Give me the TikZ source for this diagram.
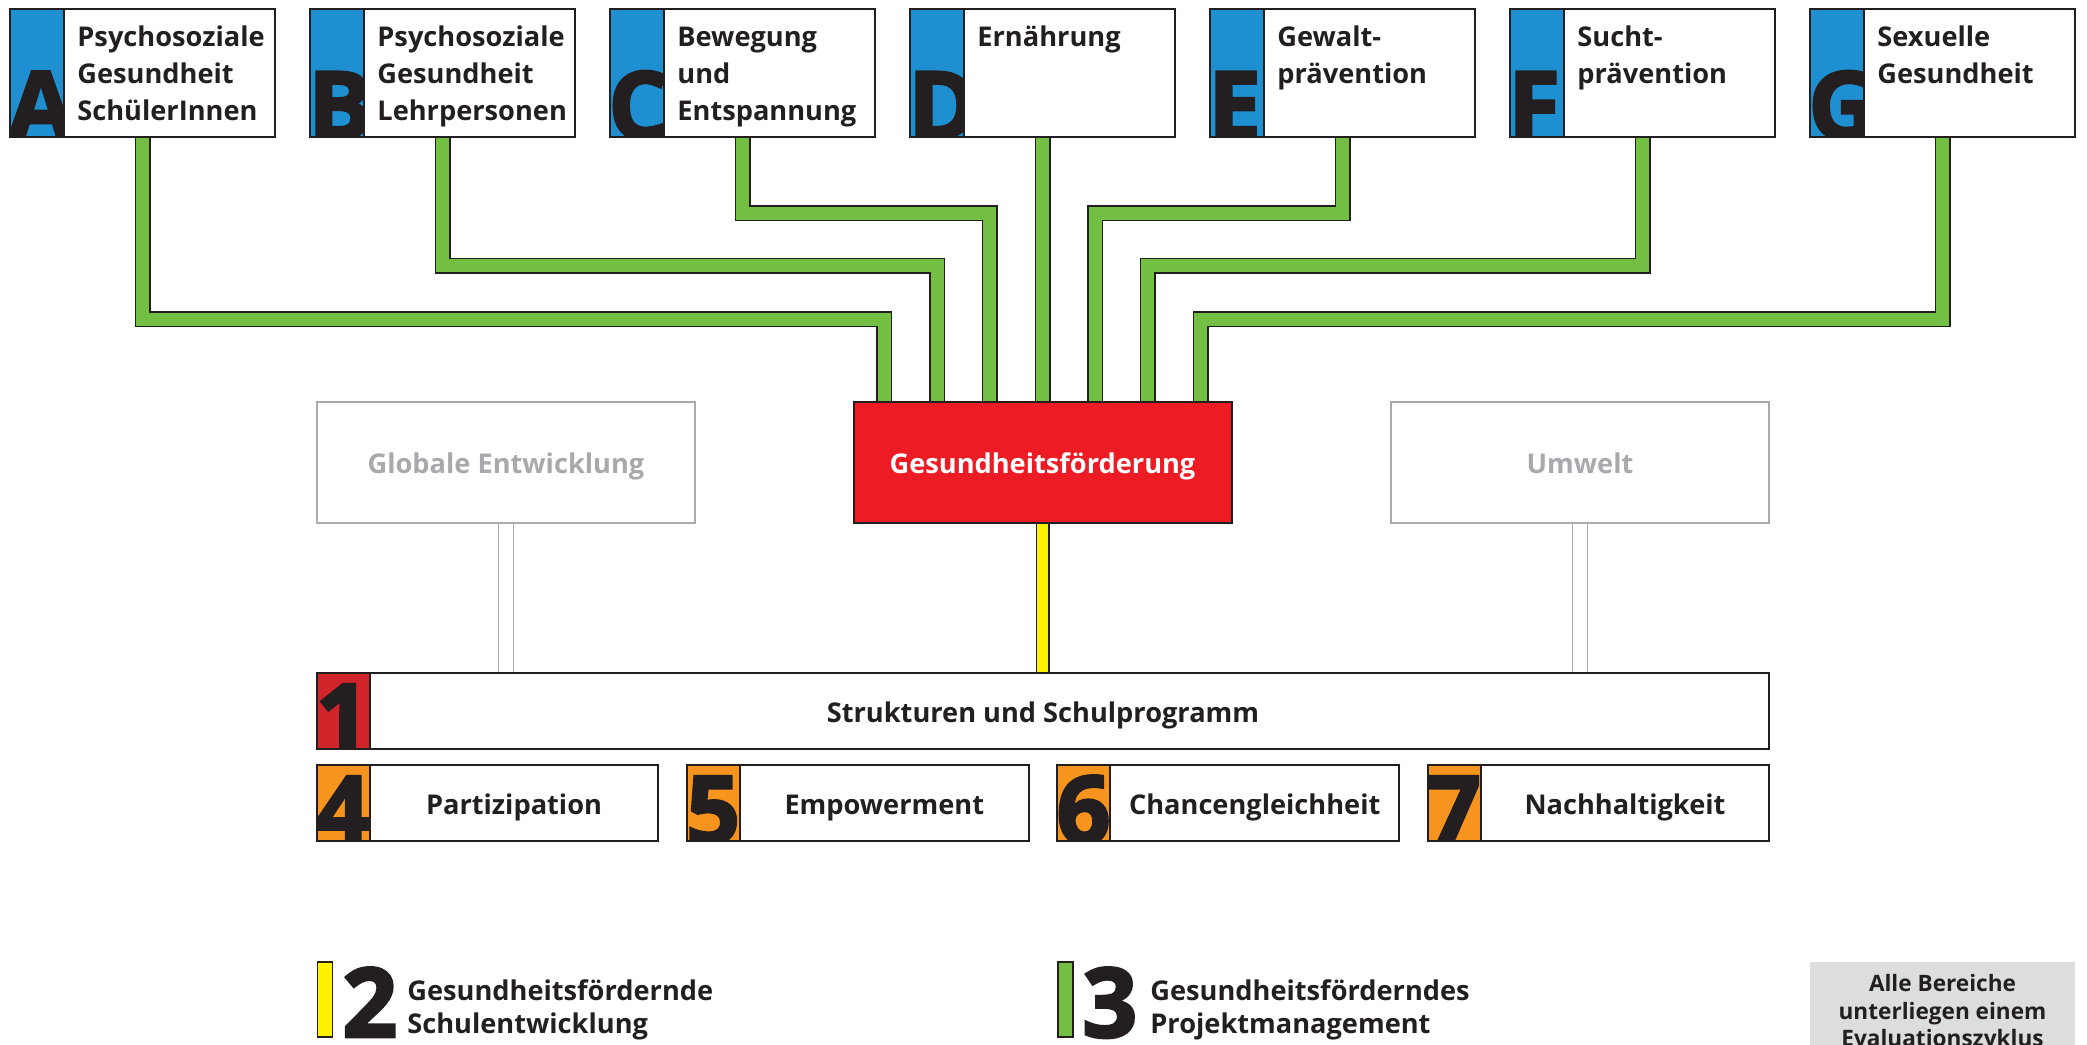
\documentclass[tikz,border=0pt]{standalone}
\usepackage{fontspec}
\setmainfont{Open Sans}
\newfontfamily\heavyfont{Open Sans}[BoldFeatures={FakeBold=3}]
\usetikzlibrary{calc,backgrounds}
\definecolor{ink}{RGB}{35,31,32}
\definecolor{myblue}{RGB}{30,144,210}
\definecolor{myred}{RGB}{237,28,36}
\definecolor{darkred}{RGB}{208,35,42}
\definecolor{myorange}{RGB}{247,148,29}
\definecolor{mygreen}{RGB}{114,191,68}
\definecolor{myyellow}{RGB}{255,242,0}
\definecolor{greyln}{RGB}{170,170,172}
\definecolor{greytxt}{RGB}{167,169,172}
\definecolor{greyfill}{RGB}{220,221,223}
\newcommand\lbl[1]{\parbox[t]{200pt}{\raggedright #1}}
\tikzset{
  topbox/.style={fill=white, minimum width=132.5pt, minimum height=64pt, inner sep=0pt, outer sep=0pt},
  bigchar/.style={font=\fontsize{47pt}{47pt}\selectfont\heavyfont\bfseries, text=ink, inner sep=0pt},
  bigdigit/.style={font=\fontsize{47pt}{47pt}\selectfont\heavyfont\bfseries, text=ink, inner sep=0pt},
  lbltext/.style={font=\fontsize{13.6pt}{18.35pt}\selectfont\bfseries, text=ink, inner sep=0pt},
  legtext/.style={font=\fontsize{13.6pt}{16.8pt}\selectfont\bfseries, text=ink, inner sep=0pt},
  evaltext/.style={font=\fontsize{11.3pt}{13.75pt}\selectfont\bfseries, text=ink, inner sep=0pt},
  border/.style={draw=ink, line width=1pt},
  greenconn/.style={draw=ink, double=mygreen, line width=0.75pt, double distance=6.5pt},
  yellowconn/.style={draw=ink, double=myyellow, line width=0.75pt, double distance=5.5pt},
  greyline/.style={draw=greyln, line width=0.8pt},
  midbox/.style={minimum width=189pt, minimum height=60.5pt, inner sep=0pt, font=\fontsize{13.6pt}{16pt}\selectfont\bfseries},
  legbar/.style={draw=ink, line width=0.6pt, minimum width=7.5pt, minimum height=37.5pt, inner sep=0pt},
}
\newcommand\topbox[4]{%
  \node[topbox] (#1) at (#2+132.5,73) {};
  \fill[myblue] (#1.north west) rectangle ($(#1.south west)+(54,0)$);
  \begin{scope}
    \clip (#1.north west) rectangle ($(#1.south west)+(54,0)$);
    \node[bigchar, anchor=base west] (#1letter) at ($(#1.south west)+(-2,2)$) {#3};
  \end{scope}
  \draw[border] ($(#1.north west)+(54,0)$) -- ($(#1.south west)+(54,0)$);
  \draw[border] (#1.north west) rectangle (#1.south east);
  \node[lbltext, anchor=base west] (#1text) at ($(#1.north west)+(67,37.7)$) {\lbl{#4}};
}
% name, cx, cy, width(pt), strip colour, digit, label, label x-offset
\newcommand\numbox[8]{%
  \node[fill=white, minimum width=#4, minimum height=38pt, inner sep=0pt] (#1) at (#2,#3) {};
  \fill[#5] (#1.north west) rectangle ($(#1.south west)+(53,0)$);
  \begin{scope}
    \clip (#1.north west) rectangle ($(#1.south west)+(53,0)$);
    \node[bigdigit, anchor=base west] (#1digit) at ($(#1.south west)+(-1,2)$) {#6};
  \end{scope}
  \draw[border] ($(#1.north west)+(53,0)$) -- ($(#1.south west)+(53,0)$);
  \draw[border] (#1.north west) rectangle (#1.south east);
  \node[lbltext, anchor=base] (#1text) at ($(#1)+(#8,11)$) {#7};
}
\begin{document}
\begin{tikzpicture}[x=0.5pt,y=-0.5pt]
\useasboundingbox (0,0) rectangle (2087,1044);

% top boxes
\topbox{A}{10}{A}{Psychosoziale\\Gesundheit\\SchülerInnen}
\topbox{B}{310}{B}{Psychosoziale\\Gesundheit\\Lehrpersonen}
\topbox{C}{610}{C}{Bewegung\\und\\Entspannung}
\topbox{D}{910}{D}{Ernährung}
\topbox{E}{1210}{E}{Gewalt-\\prävention}
\topbox{F}{1510}{F}{Sucht-\\prävention}
\topbox{G}{1810}{G}{Sexuelle\\Gesundheit}

% middle row
\node[midbox, fill=myred, draw=ink, line width=1pt, text=white] (gf) at (1042.5,462.5) {};
\node[midbox, fill=white, draw=greyln, line width=1.2pt] (glob) at (506,462.5) {};
\node[midbox, fill=white, draw=greyln, line width=1.2pt] (umw) at (1580,462.5) {};
\node[lbltext, text=white, anchor=base] (gftext) at ($(gf)+(0,11)$) {Gesundheitsförderung};
\node[lbltext, text=greytxt, anchor=base] (globtext) at ($(glob)+(0,11)$) {Globale Entwicklung};
\node[lbltext, text=greytxt, anchor=base] (umwtext) at ($(umw)+(0,11)$) {Umwelt};

% structure and principle boxes
\numbox{struct}{1043}{711}{726pt}{darkred}{1}{Strukturen und Schulprogramm}{0}
\numbox{p4}{487.5}{803}{170.5pt}{myorange}{4}{Partizipation}{26.5}
\numbox{p5}{857.8}{803}{170.5pt}{myorange}{5}{Empowerment}{26.5}
\numbox{p6}{1228.2}{803}{170.5pt}{myorange}{6}{Chancengleichheit}{26.5}
\numbox{p7}{1598.5}{803}{170.5pt}{myorange}{7}{Nachhaltigkeit}{26.5}

% connectors
\begin{pgfonlayer}{background}
\fill[white] (0,0) rectangle (2087,1044);
\draw[greenconn] (A.south) -- ++(0,182) -| ($(gf.north)+(-158.1,0)$);
\draw[greenconn] (B.south) -- ++(0,128.5) -| ($(gf.north)+(-105.4,0)$);
\draw[greenconn] (C.south) -- ++(0,76) -| ($(gf.north)+(-52.7,0)$);
\draw[greenconn] (D.south) -- (gf.north);
\draw[greenconn] (E.south) -- ++(0,76) -| ($(gf.north)+(52.7,0)$);
\draw[greenconn] (F.south) -- ++(0,128.5) -| ($(gf.north)+(105.4,0)$);
\draw[greenconn] (G.south) -- ++(0,182) -| ($(gf.north)+(158.1,0)$);
\draw[yellowconn] (gf.south) -- (gf.south |- struct.north);
\coordinate (gl1) at ($(glob.south)+(-7.5,0)$);
\coordinate (gl2) at ($(glob.south)+(7.5,0)$);
\coordinate (ul1) at ($(umw.south)+(-7.5,0)$);
\coordinate (ul2) at ($(umw.south)+(7.5,0)$);
\draw[greyline] (gl1) -- (gl1 |- struct.north);
\draw[greyline] (gl2) -- (gl2 |- struct.north);
\draw[greyline] (ul1) -- (ul1 |- struct.north);
\draw[greyline] (ul2) -- (ul2 |- struct.north);
\end{pgfonlayer}

% legend
\node[legbar, fill=myyellow] (bar2) at (325,999.5) {};
\node[bigdigit, anchor=base west, font=\fontsize{48pt}{48pt}\selectfont\heavyfont\bfseries] (num2) at (342,1037) {2};
\node[legtext, anchor=base west] (leg2) at (407,1000) {\lbl{Gesundheitsfördernde\\Schulentwicklung}};
\node[legbar, fill=mygreen] (bar3) at (1065.5,999.5) {};
\node[bigdigit, anchor=base west, font=\fontsize{48pt}{48pt}\selectfont\heavyfont\bfseries] (num3) at (1082,1037) {3};
\node[legtext, anchor=base west] (leg3) at (1150,1000) {\lbl{Gesundheitsförderndes\\Projektmanagement}};

\node[fill=greyfill, minimum width=132.5pt, minimum height=48pt, inner sep=0pt] (eval) at (1942.5,1010) {};
\node[evaltext, anchor=base] (evaltxt) at (1942.5,991.7) {\parbox[t]{130pt}{\centering Alle Bereiche\\unterliegen einem\\Evaluationszyklus}};
\end{tikzpicture}
\end{document}
